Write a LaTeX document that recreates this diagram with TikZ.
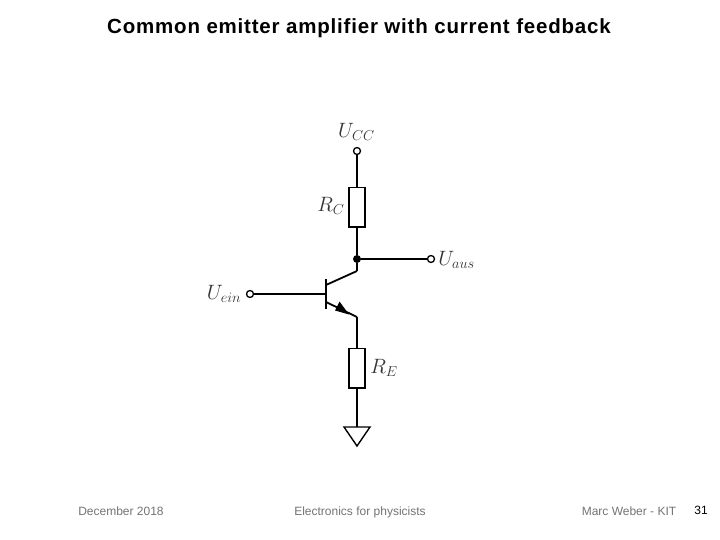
\documentclass[tikz,border=0pt]{standalone}
\usepackage{fontspec}
\setmainfont{Liberation Sans}
\usetikzlibrary{arrows.meta}
\definecolor{foot}{RGB}{115,115,115}
\tikzset{
  wire/.style={line width=2.5pt,black},
  thin wire/.style={line width=1.8pt,black},
  terminal/.style={circle,draw=black,fill=white,line width=1.3pt,minimum size=7pt,inner sep=0pt},
  junction/.style={circle,fill=black,minimum size=8pt,inner sep=0pt},
  resistor/.style={rectangle,draw=black,fill=white,line width=1.5pt,minimum width=16pt,minimum height=39.5pt,inner sep=0pt},
  ground/.style={line width=1.4pt,black,line join=miter},
  mathlabel/.style={inner sep=0pt,text=black!80,font=\fontsize{20.5}{24}\selectfont},
  foottext/.style={inner sep=0pt,anchor=base,text=foot,font=\fontsize{12}{14}\selectfont},
}
\begin{document}
\begin{tikzpicture}[x=1pt,y=-1pt]
\useasboundingbox (0,0) rectangle (720,540);
\node[inner sep=0pt,anchor=base,font=\bfseries\fontsize{20.5}{24}\selectfont\addfontfeature{LetterSpace=3.9}] (title) at (359,34) {Common emitter amplifier with current feedback};
\node[foottext] (date) at (121,515.5) {December 2018};
\node[foottext] (course) at (360,515.5) {Electronics for physicists};
\node[foottext] (author) at (629,515.5) {Marc Weber - KIT};
\node[foottext,text=black] (page) at (701,514.5) {31};

\coordinate (cTop) at (357,271);
\coordinate (eBot) at (357,317);
\coordinate (bTop) at (326,279);
\coordinate (bBot) at (326,309);
\coordinate (bMid) at (326,294);
\coordinate (cIn) at (326,285);
\coordinate (eIn) at (326,302);
\coordinate (gndTop) at (357,427);

\node[terminal] (ucc) at (357,151) {};
\node[resistor] (rc) at (357,207.5) {};
\node[junction] (j) at (357,259) {};
\node[terminal] (uaus) at (431,259) {};
\node[terminal] (uein) at (250,294) {};
\node[resistor] (re) at (357,368) {};

\draw[wire] (ucc) -- (rc);
\draw[wire] (rc) -- (j);
\draw[wire] (j) -- (uaus);
\draw[wire] (j) -- (cTop);
\draw[thin wire] (uein) -- (bMid);
\draw[line width=1.8pt] (bTop) -- (bBot);
\draw[thin wire] (cIn) -- (cTop);
\draw[thin wire] (eIn) -- (eBot);
\path[fill=black] (349,314.5) -- (335,310.5) -- (339.5,301.5) -- cycle;
\draw[wire] (eBot) -- (re);
\draw[wire] (re) -- (gndTop);
\draw[ground] (344,427) -- (370,427) -- (357,446) -- cycle;

\node[mathlabel,anchor=center] (lcc) at (356.5,132) {$U_{CC}$};
\node[mathlabel,anchor=center] (lrc) at (331,206) {$R_{C}$};
\node[mathlabel,anchor=center] (laus) at (456.5,260) {$U_{aus}$};
\node[mathlabel,anchor=center] (lein) at (224,294) {$U_{ein}$};
\node[mathlabel,anchor=center] (lre) at (384,368) {$R_{E}$};
\end{tikzpicture}
\end{document}
